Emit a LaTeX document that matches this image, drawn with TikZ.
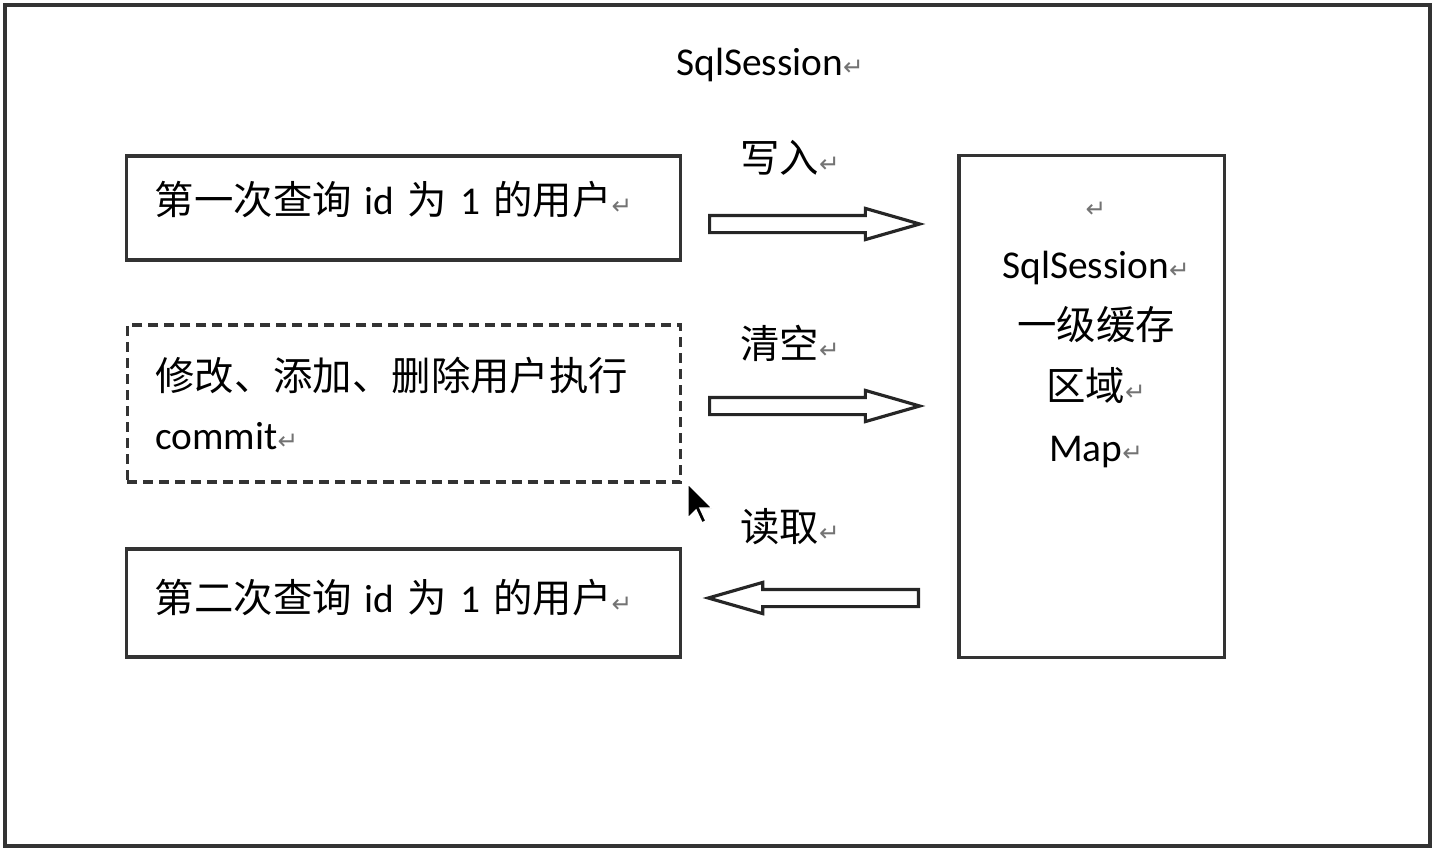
\documentclass[tikz,border=0pt]{standalone}
\usepackage{fontspec}
\setmainfont{Carlito}
\newfontfamily\cjk{Noto Sans CJK SC}
\newfontfamily\symfont{DejaVu Sans}
\usetikzlibrary{shapes.arrows, positioning}

\newcommand{\pmark}{{\symfont\color{black!55}\fontsize{7}{7}\selectfont ↵}}

\tikzset{
  frame/.style={draw=black!80, line width=1.1pt},
  box/.style={draw=black!80, line width=0.9pt, minimum width=5.53cm, inner xsep=0.28cm,
    text width=4.97cm, align=left, font=\fontsize{11.2}{17}\selectfont},
  blockarrow/.style={single arrow, draw=black!85, line width=0.9pt, fill=white, anchor=tail,
    minimum height=2.1cm, single arrow head extend=0.07cm, single arrow tip angle=32,
    single arrow head indent=0cm, inner sep=0.07cm},
  lbl/.style={font=\fontsize{11.2}{17.4}\selectfont, inner sep=0pt}
}

\begin{document}
\begin{tikzpicture}[x=0.01cm, y=-0.01cm]
  \useasboundingbox (0,0) rectangle (1436,854);
  % Frame
  \node[frame, minimum width=14.25cm, minimum height=8.41cm] (session) at (717.5,425.5) {};
  \node[lbl] (title) at (770,65) {SqlSession\pmark};
  % Nodes
  \node[box, minimum height=1.04cm, text depth=0.2cm] (first) at (403.5,208)
    {{\cjk 第一次查询} id {\cjk 为} 1 {\cjk 的用户}\pmark};
  \node[box, dashed, dash pattern=on 0.1cm off 0.06cm, minimum height=1.57cm] (modify) at (404,403.5)
    {{\cjk 修改、添加、删除用户执行}\\commit\pmark};
  \node[box, minimum height=1.08cm, text depth=0.15cm] (second) at (403.5,603)
    {{\cjk 第二次查询} id {\cjk 为} 1 {\cjk 的用户}\pmark};
  \node[draw=black!80, line width=0.9pt, minimum width=2.65cm, minimum height=5.01cm] (cache) at (1091.5,406.5) {};
  \node[lbl, align=center] (cachetext) at (1096,335)
    {\pmark\\SqlSession\pmark\\{\cjk 一级缓存}\\{\cjk 区域}\pmark\\Map\pmark};
  % Arrows
  \node[blockarrow] (write) at (708,224) {};
  \node[blockarrow] (clear) at (708,406) {};
  \node[blockarrow, shape border rotate=180] (read) at (920,598) {};
  \node[lbl] (writelbl) at (790,158) {{\cjk 写入}\pmark};
  \node[lbl] (clearlbl) at (790,343) {{\cjk 清空}\pmark};
  \node[lbl] (readlbl) at (790,527) {{\cjk 读取}\pmark};
  % Cursor
  \fill[black, draw=white, line width=0.4pt] (688,484) -- ++(0,34) -- ++(8,-8) -- ++(6,13)
    -- ++(4,-2) -- ++(-6,-13) -- ++(12,0) -- cycle;
\end{tikzpicture}
\end{document}
